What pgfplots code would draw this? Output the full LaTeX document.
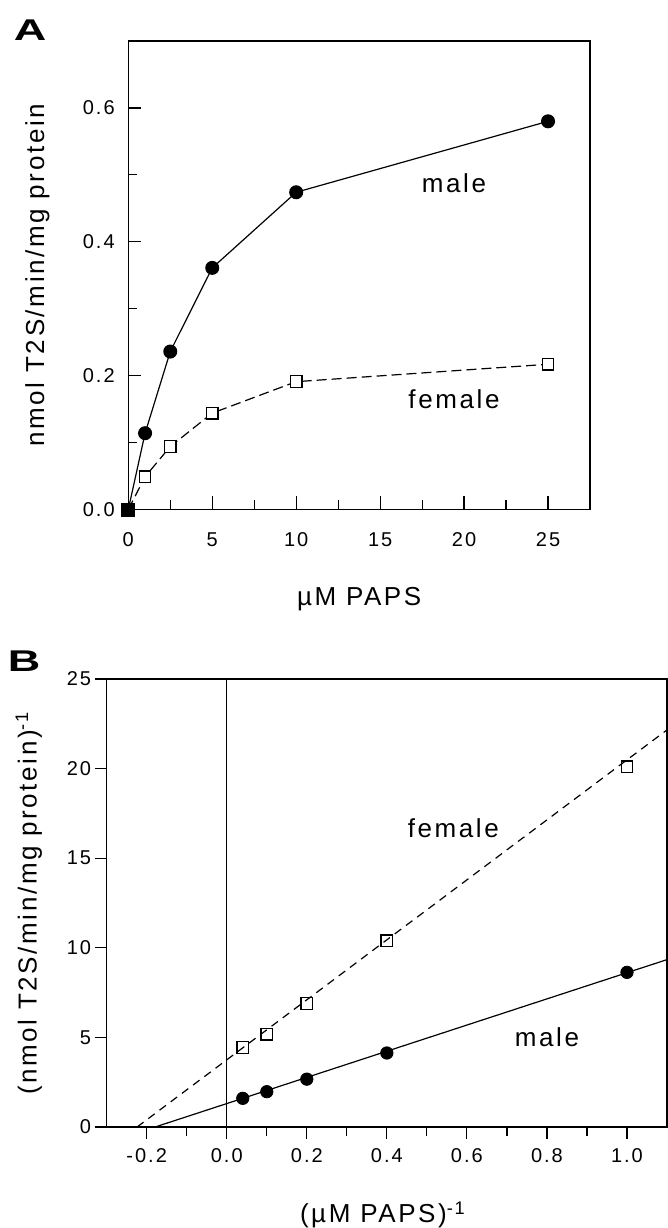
\documentclass[border=0pt]{standalone}
\usepackage{pgfplots}
\pgfplotsset{compat=1.18}
\usepackage{fontspec}
\setmainfont{Liberation Sans}[LetterSpace=10]
\newcommand{\lab}{\fontsize{13}{15}\selectfont}
\newcommand{\tl}{\fontsize{10}{12}\selectfont}
\begin{document}
\begin{tikzpicture}
\useasboundingbox (0,0) rectangle (334pt,614pt);
\pgfplotsset{
  every axis/.append style={
    scale only axis,
    axis line style={line width=0.75pt},
    every tick/.style={black, line width=0.6pt},
    /pgf/number format/assume math mode=true,
    tick label style={font=\tl},
    xtick pos=bottom, ytick pos=left,
  },
}
% ---------------- Panel A ----------------
\begin{axis}[
  at={(64.15pt,359.25pt)}, anchor=south west,
  width=230.85pt, height=234.25pt,
  xmin=0, xmax=27.5, ymin=0, ymax=0.7,
  xtick={0,5,10,15,20,25},
  minor xtick={2.5,7.5,12.5,17.5,22.5},
  ytick={0,0.2,0.4,0.6},
  minor ytick={0.1,0.3,0.5},
  tick align=inside,
  major tick length=6.5pt, minor tick length=4.5pt,
  yticklabel style={/pgf/number format/.cd, fixed, fixed zerofill, precision=1, /tikz/.cd, xshift=-3.3pt},
  xticklabel style={yshift=-8pt},
  clip=false,
  xlabel={µM PAPS},
  ylabel={nmol T2S/min/mg protein},
  every axis x label/.style={at={(axis description cs:0.5,-0.191)}, anchor=center, font=\lab},
  every axis y label/.style={at={(axis description cs:-0.197,0.5)}, rotate=90, anchor=center, font=\lab},
]
\addplot[black, line width=0.6pt, dash pattern=on 5pt off 2.5pt, mark=square*, mark size=2.9pt,
  mark options={solid, fill=white, line width=0.6pt}, mark indices={2,3,4,5,6}]
  coordinates {(0,0) (1,0.049) (2.5,0.094) (5,0.144) (10,0.191) (25,0.217)};
\addplot[black, line width=0.6pt, mark=*, mark size=3.2pt, mark indices={2,3,4,5,6}]
  coordinates {(0,0) (1,0.114) (2.5,0.236) (5,0.361) (10,0.474) (25,0.580)};
\addplot[only marks, mark=square*, mark size=3.25pt, black] coordinates {(0,0)};
\node[font=\lab] at (axis cs:19.4,0.488) {male};
\node[font=\lab] at (axis cs:19.4,0.165) {female};
\end{axis}
% ---------------- Panel B ----------------
\begin{axis}[
  at={(53.35pt,50.5pt)}, anchor=south west,
  width=280.15pt, height=224pt,
  xmin=-0.3, xmax=1.1, ymin=0, ymax=25,
  xtick={-0.2,0,0.2,0.4,0.6,0.8,1.0},
  minor xtick={-0.1,0.1,0.3,0.5,0.7,0.9},
  ytick={0,5,10,15,20,25},
  tick align=outside,
  major tick length=6pt, minor tick length=4.25pt,
  xticklabel style={/pgf/number format/.cd, fixed, fixed zerofill, precision=1, /tikz/.cd, yshift=-1.4pt},
  yticklabel style={xshift=1.7pt},
  xlabel={(µM PAPS)\textsuperscript{-1}},
  ylabel={(nmol T2S/min/mg protein)\textsuperscript{-1}},
  every axis x label/.style={at={(axis description cs:0.493,-0.196)}, anchor=center, font=\lab},
  every axis y label/.style={at={(axis description cs:-0.139,0.5)}, rotate=90, anchor=center, font=\lab},
]
\addplot[black, line width=0.6pt] coordinates {(0,0) (0,25)};
\addplot[black, line width=0.6pt, dash pattern=on 4pt off 3pt] coordinates {(-0.224,0) (1.1,22.16)};
\addplot[black, line width=0.6pt] coordinates {(-0.179,0) (1.1,9.34)};
\addplot[only marks, mark=square, mark size=2.9pt, mark options={line width=0.6pt}]
  coordinates {(0.04,4.43) (0.1,5.18) (0.2,6.9) (0.4,10.39) (1.0,20.1)};
\addplot[only marks, mark=*, mark size=3.1pt, black]
  coordinates {(0.04,1.60) (0.1,1.97) (0.2,2.67) (0.4,4.13) (1.0,8.63)};
\node[font=\lab] at (axis cs:0.566,16.7) {female};
\node[font=\lab] at (axis cs:0.80,5.03) {male};
\end{axis}
\node[font=\fontsize{15}{17}\selectfont\bfseries] at (15pt,599pt) {\scalebox{1.5}[1]{A}};
\node[font=\fontsize{15}{17}\selectfont\bfseries] at (12pt,283.5pt) {\scalebox{1.5}[1]{B}};
\end{tikzpicture}
\end{document}
